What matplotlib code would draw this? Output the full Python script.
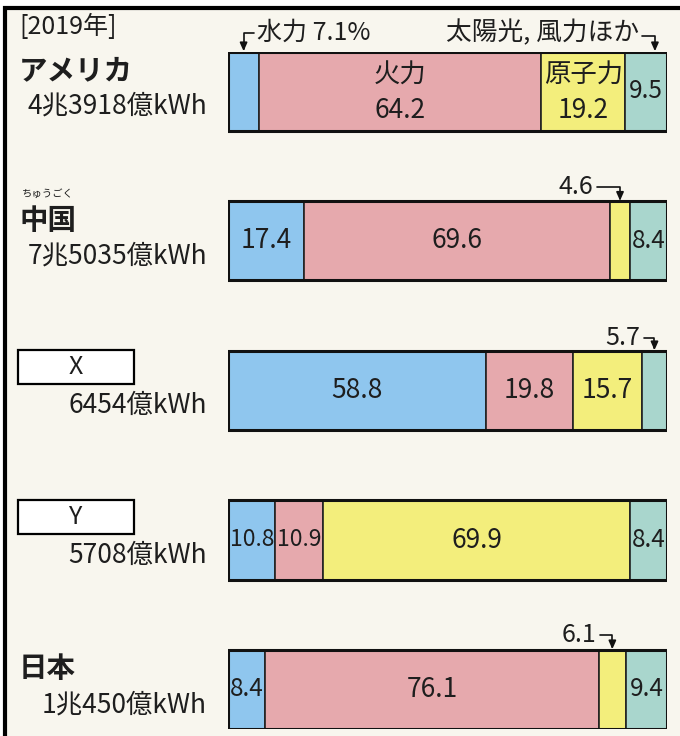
import matplotlib
matplotlib.use("Agg")
import matplotlib.pyplot as plt
from matplotlib.patches import Rectangle
from matplotlib.transforms import blended_transform_factory

plt.rcParams['font.family'] = ['Noto Sans CJK JP', 'DejaVu Sans']

# ---- data ----
year_label = '[2019年]'
countries = ['アメリカ', '中国', 'X', 'Y', '日本']
ruby = ['', 'ちゅうごく', '', '', '']
totals = ['4兆3918億kWh', '7兆5035億kWh', '6454億kWh', '5708億kWh', '1兆450億kWh']
sources = ['水力', '火力', '原子力', '太陽光, 風力ほか']
hydro = [7.1, 17.4, 58.8, 10.8, 8.4]
thermal = [64.2, 69.6, 19.8, 10.9, 76.1]
nuclear = [19.2, 4.6, 15.7, 69.9, 6.1]
renew = [9.5, 8.4, 5.7, 8.4, 9.4]
colors = ['#8fc6ee', '#e6a9ad', '#f3ee7c', '#a9d6cd']
boxed = [False, False, True, True, False]

series = [hydro, thermal, nuclear, renew]

# ---- layout (pixels) ----
W, H = 680, 736
BAR_L, BAR_R = 228, 667
BAR_TOP, BAR_H, ROW = 52, 79, 149.5
n = len(countries)
frac = BAR_H / ROW
txt = '#1e1e1e'
bg = '#f8f6ee'

fig = plt.figure(figsize=(W / 100, H / 100), dpi=100, facecolor='white')
ax0 = fig.add_axes([0, 0, 1, 1], zorder=0)
ax0.set_xlim(0, W)
ax0.set_ylim(H, 0)
ax0.axis('off')
ax0.add_patch(Rectangle((5, 8), W, H, facecolor=bg, edgecolor='black', lw=3))

total_px = BAR_H + (n - 1) * ROW
axb = fig.add_axes([BAR_L / W, 1 - (BAR_TOP + total_px) / H,
                    (BAR_R - BAR_L) / W, total_px / H], zorder=2)
axb.patch.set_alpha(0)
axb.set_xlim(0, 100)
axb.set_ylim(n - 1 + frac / 2, -frac / 2)
axb.axis('off')

ypos = list(range(n))
left = [0.0] * n
for vals, c in zip(series, colors):
    axb.barh(ypos, vals, left=left, height=frac, color=c,
             edgecolor='#222222', linewidth=1.2, zorder=2)
    left = [l + v for l, v in zip(left, vals)]
axb.barh(ypos, [100] * n, left=0, height=frac, fill=False,
         edgecolor='#111111', linewidth=2.2, zorder=3)

# labels inside segments
inside_min = 7.5
for i in range(n):
    cum = 0
    for k, vals in enumerate(series):
        v = vals[i]
        xc = cum + v / 2
        if v >= inside_min:
            if v > 12:
                fs = 19
            elif v >= 10:
                fs = 16.5
            else:
                fs = 17.5
            if i == 0 and k in (1, 2):
                axb.text(xc, i - 0.11, sources[k], ha='center', va='center',
                         fontsize=19, color=txt, zorder=4)
                axb.text(xc, i + 0.13, f'{v}', ha='center', va='center',
                         fontsize=19, color=txt, zorder=4)
            else:
                axb.text(xc, i, f'{v}', ha='center', va='center',
                         fontsize=fs, color=txt, zorder=4)
        cum += v

ARROW = dict(arrowstyle='-|>,head_length=0.5,head_width=0.22',
             color='#111111', lw=1.2,
             connectionstyle='angle,angleA=0,angleB=90,rad=0',
             shrinkA=0, shrinkB=0)

# outside callouts with bent arrows
def callout(i, xc, label, dx, ha, dy=0.115):
    top = i - frac / 2
    ly = top - dy
    axb.annotate('', xy=(xc, top - 0.005), xytext=(xc + dx, ly),
                 arrowprops=ARROW, zorder=5, annotation_clip=False)
    tx = xc + dx + (-0.8 if ha == 'right' else 0.8)
    axb.text(tx, ly, label, ha=ha, va='center', fontsize=18, color=txt,
             clip_on=False)

callout_dx = {(1, 2): -5.2, (4, 2): -2.8}
for i in range(n):
    cum = 0
    for k, vals in enumerate(series):
        v = vals[i]
        xc = cum + v / 2
        if v < inside_min:
            if i == 0 and k == 0:
                callout(i, xc, f'{sources[0]} {v}%', 2.3, 'left', dy=0.13)
            elif k == 3:
                callout(i, xc, f'{v}', -2.5, 'right', dy=0.09)
            else:
                callout(i, xc, f'{v}', callout_dx.get((i, k), -4.0), 'right',
                        dy=0.1)
        cum += v

# renewables header for first row
top0 = -frac / 2
xr = 100 - renew[0] / 2
axb.annotate('', xy=(xr + 2.0, top0 - 0.005), xytext=(xr - 1.0, top0 - 0.11),
             arrowprops=ARROW, zorder=5, annotation_clip=False)
axb.text(xr - 1.5, top0 - 0.13, sources[3], ha='right', va='center',
         fontsize=18.5, color=txt, clip_on=False)

# left-side labels
tr = blended_transform_factory(ax0.transData, axb.transData)
px = 1 / ROW
ax0.text(19, 27, year_label, ha='left', va='center', fontsize=18, color=txt)
for i in range(n):
    if boxed[i]:
        cy = i - 23 * px
        ax0.add_patch(Rectangle((18, cy - 17 * px), 116, 34 * px,
                                transform=tr, facecolor='white',
                                edgecolor='black', lw=1.6, zorder=3))
        ax0.text(76, cy, countries[i], transform=tr, ha='center', va='center',
                 fontsize=18, color=txt, zorder=4)
    else:
        ax0.text(19, i - 20 * px, countries[i], transform=tr, ha='left',
                 va='center', fontsize=20.5, fontweight='bold', color=txt)
        if ruby[i]:
            ax0.text(22, i - 47 * px, ruby[i], transform=tr, ha='left',
                     va='center', fontsize=7.5, color=txt)
    ax0.text(207, i + 15 * px, totals[i], transform=tr, ha='right',
             va='center', fontsize=19, color=txt)

fig.savefig('out.png', dpi=100, facecolor=fig.get_facecolor())
